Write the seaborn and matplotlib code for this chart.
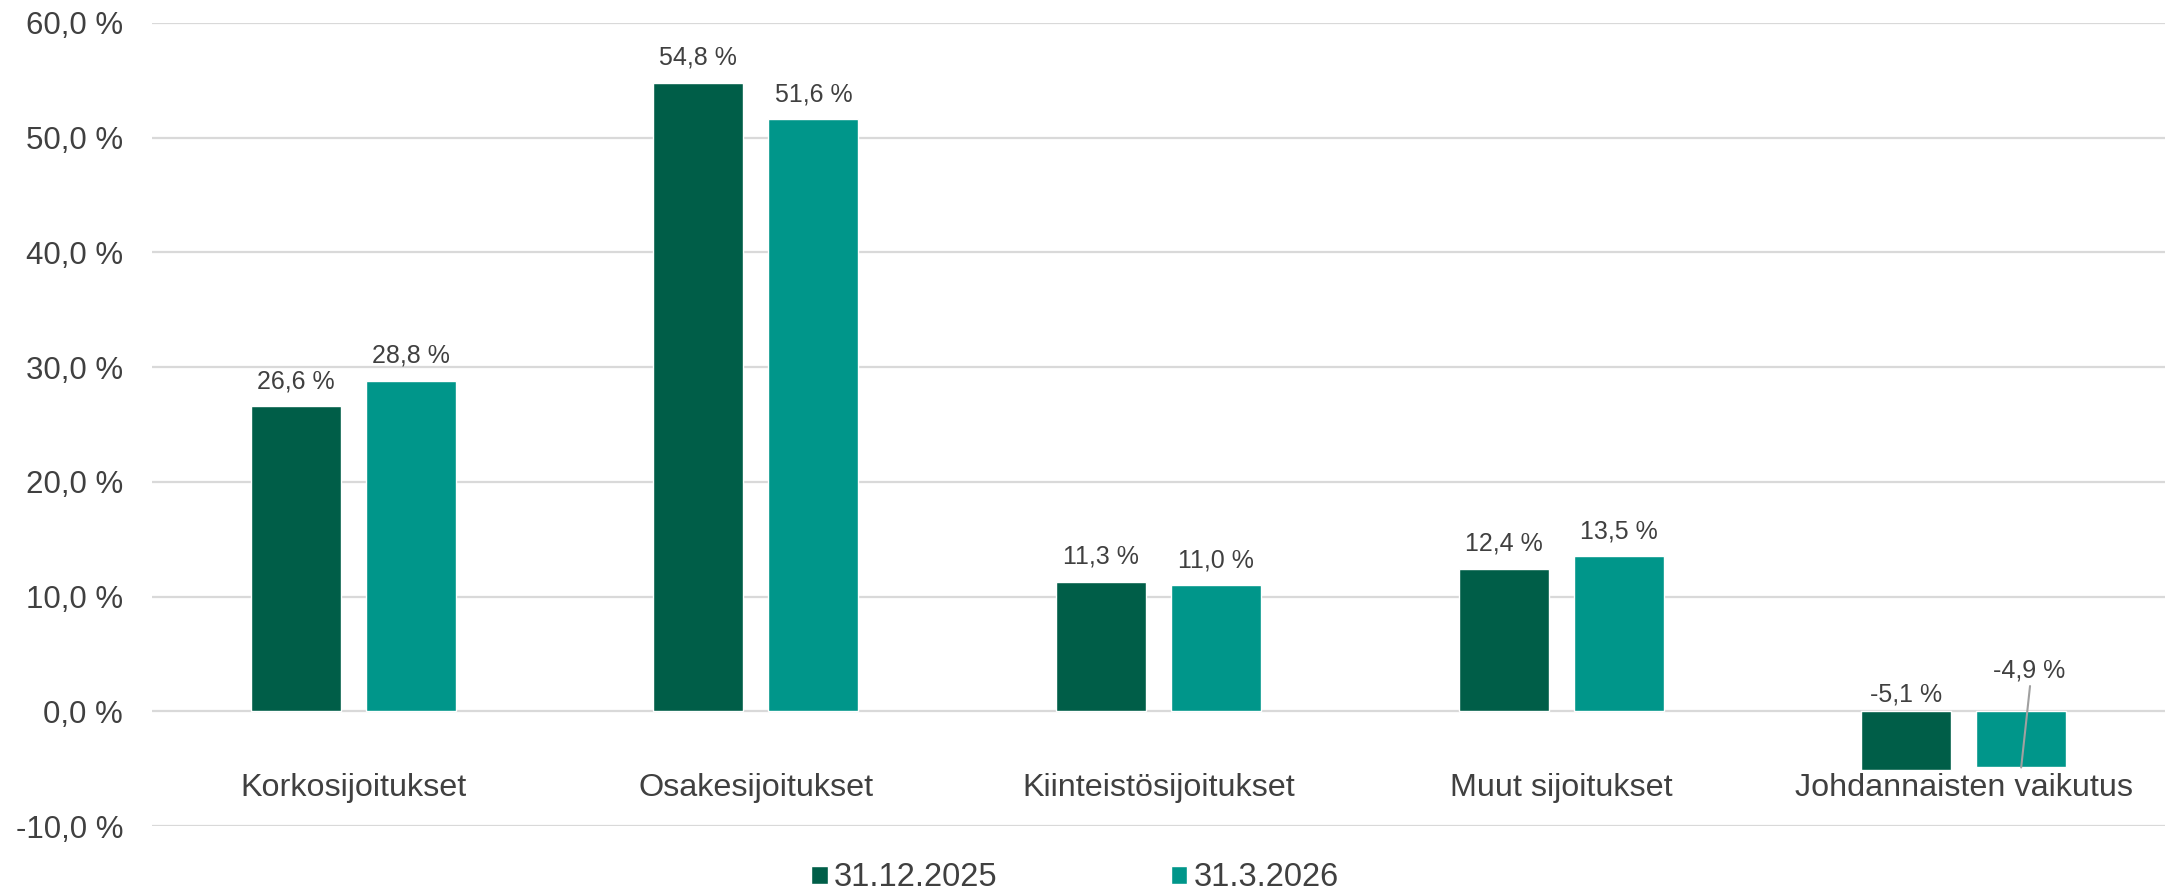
import pandas as pd
import matplotlib
matplotlib.use('Agg')
import matplotlib.pyplot as plt
from matplotlib.patches import Patch
import matplotlib.transforms as mtransforms
import seaborn as sns

# Data
categories = ['Korkosijoitukset', 'Osakesijoitukset', 'Kiinteistösijoitukset',
              'Muut sijoitukset', 'Johdannaisten vaikutus']
dates = ['31.12.2025', '31.3.2026']
vals_2025 = [26.6, 54.8, 11.3, 12.4, -5.1]
vals_2026 = [28.8, 51.6, 11.0, 13.5, -4.9]
yticks = [-10, 0, 10, 20, 30, 40, 50, 60]
colors = ['#005E48', '#00968A']
text_col = '#404040'

df = pd.DataFrame({'Luokka': categories * 2,
                   'Päivä': [dates[0]] * 5 + [dates[1]] * 5,
                   'Osuus': vals_2025 + vals_2026})

sns.set_style('white')
plt.rcParams['font.family'] = ['Liberation Sans', 'DejaVu Sans']

W, H = 2170, 892
fig = plt.figure(figsize=(W / 100, H / 100), dpi=100)
ax = fig.add_axes([152 / W, 1 - 826 / H, 2013 / W, 803 / H])

sns.barplot(data=df, x='Luokka', y='Osuus', hue='Päivä', order=categories,
            hue_order=dates, palette=colors, saturation=1, width=0.571,
            gap=0.218, legend=False, ax=ax)

ax.set_xlim(-0.5, 4.5)
ax.set_ylim(-10, 60)
ax.set_yticks(yticks)
ax.set_yticklabels([])
ax.tick_params(axis='y', length=0)
ax.set_xticks([])
ax.set_xlabel('')
ax.set_ylabel('')
for s in ax.spines.values():
    s.set_visible(False)
ax.yaxis.grid(True, color='#D9D9D9', lw=1.6)
ax.set_axisbelow(True)

# y labels drawn as text, right aligned a bit left of the plot area
trans = mtransforms.offset_copy(ax.get_yaxis_transform(), fig=fig, x=-29, y=0,
                                units='dots')
for v in yticks:
    ax.text(0, v, f'{v:.1f} %'.replace('.', ','), transform=trans, ha='right',
            va='center_baseline', fontsize=22.5, color=text_col)

# category labels just below the zero line
for i, c in enumerate(categories):
    ax.text(i, -7.4, c, ha='center', va='baseline', fontsize=23.3, color=text_col)

# value labels
for ci, cont in enumerate(ax.containers):
    for bar in cont:
        v = bar.get_height() if bar.get_y() >= 0 else bar.get_y()
        x = bar.get_x() + bar.get_width() / 2
        lab = f'{v:.1f} %'.replace('.', ',')
        if v >= 0:
            ax.annotate(lab, (x, v), xytext=(0, 13), textcoords='offset points',
                        ha='center', va='baseline', fontsize=18, color=text_col)
        elif ci == 0:
            ax.annotate(lab, (x, 0), xytext=(0, 7), textcoords='offset points',
                        ha='center', va='baseline', fontsize=18, color=text_col)
        else:
            ax.annotate(lab, (x, v), xytext=(6, 65), textcoords='offset points',
                        ha='center', va='baseline', fontsize=18, color=text_col)
            ax.annotate('', (x, v), xytext=(x + 0.022, 2.2), textcoords='data',
                        arrowprops=dict(arrowstyle='-', color='#A0A0A0', lw=1.5,
                                        shrinkA=0, shrinkB=0))

handles = [Patch(facecolor=colors[0]), Patch(facecolor=colors[1])]
fig.legend(handles, dates, loc='center', bbox_to_anchor=(1075 / W, 1 - 878 / H),
           ncol=2, frameon=False, fontsize=23.5, labelcolor=text_col,
           handlelength=0.5, handleheight=0.5, handletextpad=0.2,
           columnspacing=5.3, borderpad=0)

fig.savefig('out.png', dpi=100)
